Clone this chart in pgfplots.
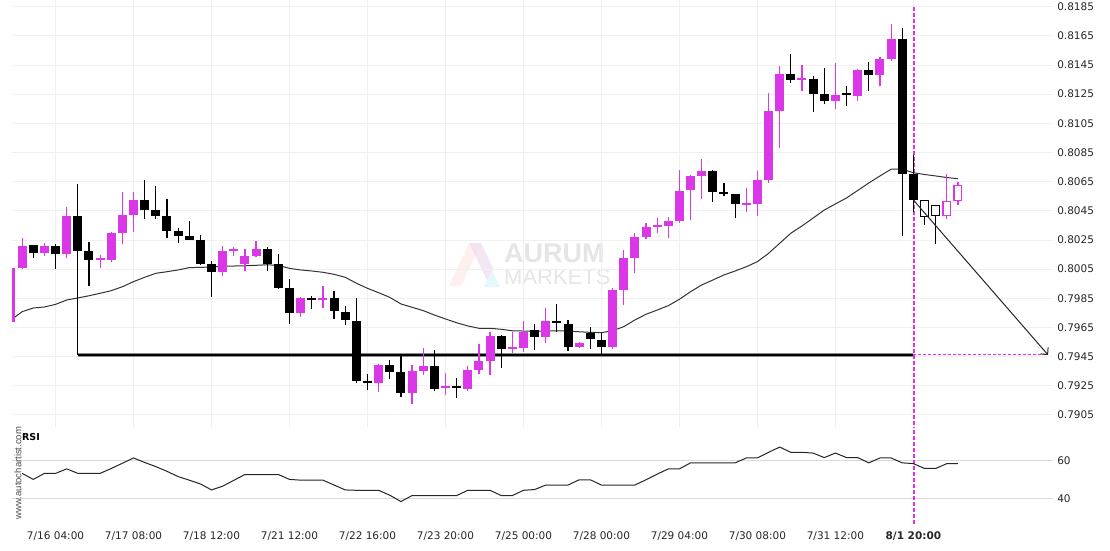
\documentclass[border=0pt]{standalone}
\usepackage{fontspec}
\setmainfont{DejaVu Sans}
\newfontfamily\arialf{Liberation Sans}
\usepackage{pgfplots}
\usepackage{pgfplotstable}
\pgfplotsset{compat=1.18}
\usetikzlibrary{arrows.meta}
\definecolor{mag}{HTML}{DA37E6}
\definecolor{dsh}{HTML}{E52EE5}

\pgfplotstableread{
i O H L C
0 0.79689 0.80060 0.79689 0.80060
1 0.80060 0.80261 0.80049 0.80208
3 0.80162 0.80227 0.80142 0.80208
5 0.80156 0.80474 0.80124 0.80416
8 0.80112 0.80149 0.80055 0.80126
9 0.80112 0.80305 0.80101 0.80298
10 0.80300 0.80577 0.80222 0.80421
11 0.80423 0.80577 0.80307 0.80524
19 0.80032 0.80210 0.80003 0.80174
20 0.80175 0.80200 0.80138 0.80189
21 0.80083 0.80186 0.80037 0.80140
22 0.80142 0.80243 0.80133 0.80188
26 0.79751 0.79856 0.79719 0.79852
28 0.79836 0.79932 0.79781 0.79852
33 0.79271 0.79399 0.79209 0.79392
36 0.79202 0.79392 0.79125 0.79349
37 0.79353 0.79509 0.79323 0.79385
39 0.79236 0.79335 0.79186 0.79250
41 0.79229 0.79385 0.79212 0.79358
42 0.79360 0.79536 0.79330 0.79420
43 0.79422 0.79618 0.79321 0.79591
45 0.79504 0.79620 0.79476 0.79518
46 0.79511 0.79694 0.79481 0.79620
48 0.79581 0.79781 0.79541 0.79694
51 0.79518 0.79552 0.79507 0.79543
54 0.79518 0.79918 0.79500 0.79907
55 0.79909 0.80181 0.79804 0.80126
56 0.80128 0.80300 0.80021 0.80270
57 0.80272 0.80368 0.80254 0.80339
58 0.80339 0.80398 0.80296 0.80353
59 0.80348 0.80409 0.80261 0.80380
60 0.80380 0.80730 0.80368 0.80586
61 0.80595 0.80695 0.80387 0.80689
62 0.80689 0.80803 0.80529 0.80723
66 0.80488 0.80604 0.80440 0.80502
67 0.80497 0.80723 0.80414 0.80661
68 0.80663 0.81256 0.80639 0.81135
69 0.81135 0.81445 0.80879 0.81388
71 0.81345 0.81448 0.81272 0.81359
74 0.81205 0.81462 0.81146 0.81244
76 0.81239 0.81425 0.81203 0.81416
78 0.81384 0.81507 0.81306 0.81491
79 0.81491 0.81731 0.81480 0.81628
}\bull

\pgfplotstableread{
i O H L C
2 0.80215 0.80215 0.80124 0.80162
4 0.80208 0.80222 0.80053 0.80156
6 0.80416 0.80632 0.79461 0.80176
7 0.80174 0.80234 0.79932 0.80114
12 0.80524 0.80661 0.80392 0.80457
13 0.80455 0.80620 0.80392 0.80414
14 0.80414 0.80529 0.80265 0.80313
15 0.80311 0.80332 0.80227 0.80279
16 0.80277 0.80378 0.80252 0.80252
17 0.80250 0.80282 0.80078 0.80087
18 0.80083 0.80108 0.79861 0.80032
23 0.80188 0.80204 0.80037 0.80083
24 0.80083 0.80151 0.79911 0.79920
25 0.79918 0.79980 0.79671 0.79751
27 0.79852 0.79867 0.79774 0.79836
29 0.79852 0.79898 0.79710 0.79760
30 0.79756 0.79797 0.79664 0.79701
31 0.79694 0.79850 0.79271 0.79284
32 0.79285 0.79328 0.79221 0.79271
34 0.79392 0.79424 0.79294 0.79346
35 0.79342 0.79467 0.79175 0.79202
38 0.79385 0.79493 0.79212 0.79229
40 0.79245 0.79301 0.79168 0.79231
44 0.79591 0.79600 0.79369 0.79504
47 0.79634 0.79671 0.79495 0.79582
49 0.79692 0.79808 0.79620 0.79678
50 0.79673 0.79701 0.79488 0.79518
52 0.79614 0.79651 0.79500 0.79568
53 0.79564 0.79610 0.79461 0.79518
63 0.80723 0.80730 0.80512 0.80581
64 0.80580 0.80639 0.80551 0.80566
65 0.80565 0.80565 0.80398 0.80494
70 0.81388 0.81526 0.81329 0.81347
72 0.81354 0.81375 0.81130 0.81253
73 0.81251 0.81427 0.81183 0.81205
75 0.81256 0.81306 0.81171 0.81242
77 0.81416 0.81471 0.81274 0.81384
80 0.81628 0.81707 0.80274 0.80699
81 0.80699 0.80833 0.80444 0.80524
}\bear

\pgfplotstableread{
i O H L C
82 0.80522 0.80522 0.80350 0.80412
83 0.80488 0.80488 0.80220 0.80419
}\bearH

\pgfplotstableread{
i O H L C
84 0.80416 0.80702 0.80396 0.80515
85 0.80519 0.80647 0.80488 0.80625
}\bullH

\pgfplotstableread{
i v
0 0.79701
1 0.79758
2 0.79783
3 0.79790
4 0.79808
5 0.79838
6 0.79852
7 0.79867
8 0.79884
9 0.79902
10 0.79929
11 0.79964
12 0.79994
13 0.80021
14 0.80032
15 0.80044
16 0.80060
17 0.80062
18 0.80064
19 0.80069
20 0.80071
21 0.80073
22 0.80076
23 0.80080
24 0.80075
25 0.80055
26 0.80044
27 0.80037
28 0.80028
29 0.80014
30 0.79994
31 0.79953
32 0.79918
33 0.79888
34 0.79856
35 0.79811
36 0.79788
37 0.79765
38 0.79735
39 0.79708
40 0.79682
41 0.79660
42 0.79644
43 0.79644
44 0.79637
45 0.79627
46 0.79625
47 0.79625
48 0.79625
49 0.79627
50 0.79625
51 0.79620
52 0.79616
53 0.79614
54 0.79627
55 0.79655
56 0.79701
57 0.79740
58 0.79769
59 0.79799
60 0.79843
61 0.79895
62 0.79941
63 0.79975
64 0.80010
65 0.80037
66 0.80066
67 0.80101
68 0.80158
69 0.80227
70 0.80296
71 0.80346
72 0.80400
73 0.80455
74 0.80497
75 0.80538
76 0.80589
77 0.80641
78 0.80689
79 0.80735
80 0.80735
81 0.80711
82 0.80699
83 0.80689
84 0.80678
85 0.80670
}\ma

\pgfplotstableread{
i r
1 53.2
2 50.0
3 53.2
4 53.2
5 55.6
6 53.2
7 53.2
8 53.2
9 55.8
10 58.6
11 61.4
12 59.0
13 56.8
14 54.3
15 51.5
16 49.6
17 47.6
18 44.4
19 46.4
20 49.5
21 52.6
22 52.6
23 52.6
24 52.6
25 50.0
26 49.6
27 49.6
28 49.6
29 47.0
30 44.4
31 44.2
32 44.2
33 44.2
34 41.6
35 38.2
36 41.4
37 41.4
38 41.4
39 41.4
40 41.4
41 44.2
42 44.2
43 44.2
44 41.4
45 41.4
46 44.2
47 44.6
48 47.0
49 47.0
50 47.0
51 49.8
52 49.8
53 47.0
54 47.0
55 47.0
56 47.0
57 49.8
58 52.8
59 55.6
60 55.6
61 58.8
62 58.8
63 58.8
64 58.8
65 58.8
66 61.4
67 61.4
68 64.4
69 67.2
70 64.4
71 64.4
72 64.0
73 61.6
74 64.0
75 61.6
76 61.6
77 58.8
78 61.4
79 61.4
80 58.8
81 58.4
82 55.8
83 55.8
84 58.4
85 58.4
}\rsi

\pgfplotsset{
  chartbase/.style={
    scale only axis, width=1041pt, anchor=south west,
    xmin=0.09, xmax=93.54,
    axis line style={draw=none},
    major tick length=0pt,
    tick label style={font=\fontsize{10.5}{12}\selectfont, text=black!85},
    yticklabel pos=right,
    yticklabel style={anchor=west, inner sep=0pt, xshift=4pt},
    xtick={4,11,...,81},
  }
}

\begin{document}
\begin{tikzpicture}[x=1pt,y=1pt]
\useasboundingbox (0,0) rectangle (1110,550);

% watermark logo
\fill[pink!30, opacity=0.8] (449,264) -- (461,264) -- (481,307) -- (469,307) -- cycle;
\fill[violet!12, opacity=0.8] (469,307) -- (481,307) -- (493,282) -- (487,270) -- cycle;
\fill[cyan!12, opacity=0.8] (484,263) -- (500,263) -- (492,280) -- cycle;
\node[font=\arialf\bfseries\fontsize{27}{27}\selectfont, text=black!10, anchor=base west, inner sep=0pt] at (504,288) {AURUM};
\node[font=\arialf\fontsize{22}{22}\selectfont, text=black!10, anchor=base west, inner sep=0pt] at (504,266) {MARKETS};

% price panel
\begin{axis}[chartbase,
  at={(12pt,123pt)}, height=427pt,
  ymin=0.789667, ymax=0.818960,
  ytick={0.7905,0.7925,0.7945,0.7965,0.7985,0.8005,0.8025,0.8045,0.8065,0.8085,0.8105,0.8125,0.8145,0.8165,0.8185},
  yticklabels={0.7905,0.7925,0.7945,0.7965,0.7985,0.8005,0.8025,0.8045,0.8065,0.8085,0.8105,0.8125,0.8145,0.8165,0.8185},
  xticklabels={},
  xmajorgrids, ymajorgrids,
  grid style={black!6, line width=0.8pt},
]
% vertical marker (behind the candles)
\addplot[dsh, line width=1.7pt, dash pattern=on 4pt off 2pt] coordinates {(81.03,0.7890) (81.03,0.8186)};
% moving average
\addplot[black!80, line width=1pt] table[x=i, y=v] {\ma};
% level line
\addplot[black!45, line width=3.4pt] coordinates {(6,0.79461) (81,0.79461)};
\addplot[black, line width=2pt] coordinates {(6,0.79461) (81,0.79461)};
\addplot[dsh, line width=1pt, dash pattern=on 3pt off 2pt] coordinates {(81,0.79461) (93.1,0.79461)};
% wicks
\addplot[mag, line width=1.2pt, quiver={u=0, v=\thisrow{H}-\thisrow{L}}] table[x=i, y=L] {\bull};
\addplot[black, line width=1.2pt, quiver={u=0, v=\thisrow{H}-\thisrow{L}}] table[x=i, y=L] {\bear};
\addplot[black, line width=1.2pt, quiver={u=0, v=\thisrow{H}-\thisrow{L}}] table[x=i, y=L] {\bearH};
\addplot[mag, line width=1.2pt, quiver={u=0, v=\thisrow{H}-\thisrow{L}}] table[x=i, y=L] {\bullH};
% bodies
\addplot[mag, line width=9pt, quiver={u=0, v=\thisrow{C}-\thisrow{O}}] table[x=i, y=O] {\bull};
\addplot[black, line width=9pt, quiver={u=0, v=\thisrow{C}-\thisrow{O}}] table[x=i, y=O] {\bear};
% hollow bodies
\addplot[black, fill=white, line width=1.3pt, line join=miter] coordinates {(81.655,0.80522) (82.345,0.80522) (82.345,0.80412) (81.655,0.80412) (81.655,0.80522) (82.345,0.80522)};
\addplot[black, fill=white, line width=1.3pt, line join=miter] coordinates {(82.655,0.80488) (83.345,0.80488) (83.345,0.80419) (82.655,0.80419) (82.655,0.80488) (83.345,0.80488)};
\addplot[mag, fill=white, line width=1.3pt, line join=miter] coordinates {(83.655,0.80515) (84.345,0.80515) (84.345,0.80416) (83.655,0.80416) (83.655,0.80515) (84.345,0.80515)};
\addplot[mag, fill=white, line width=1.3pt, line join=miter] coordinates {(84.655,0.80625) (85.345,0.80625) (85.345,0.80519) (84.655,0.80519) (84.655,0.80625) (85.345,0.80625)};
% forecast arrow
\addplot[black!85, line width=1pt, -{Straight Barb[length=5pt,width=10pt]}] coordinates {(81,0.80524) (93.09,0.79461)};
\end{axis}

% RSI panel
\begin{axis}[chartbase,
  at={(12pt,25pt)}, height=98pt,
  ymin=25.74, ymax=77.87,
  ytick={40,60}, yticklabels={40,60},
  ymajorgrids,
  grid style={black!15, line width=0.8pt},
  xticklabels={7/16 04:00,7/17 08:00,7/18 12:00,7/21 12:00,7/22 16:00,7/23 20:00,7/25 00:00,7/28 00:00,7/29 04:00,7/30 08:00,7/31 12:00,\textbf{8/1 20:00}},
  xticklabel style={anchor=base, yshift=-14pt},
]
\addplot[dsh, line width=1.7pt, dash pattern=on 4pt off 2pt] coordinates {(81.03,20) (81.03,80)};
\addplot[black!85, line width=1pt] table[x=i, y=r] {\rsi};
\end{axis}

\node[font=\bfseries\fontsize{9.5}{10}\selectfont, inner sep=0pt] at (31,113) {RSI};
\node[font=\arialf\fontsize{9.5}{10}\selectfont, text=black!70, rotate=90, inner sep=0pt] at (18,77) {www.autochartist.com};
\end{tikzpicture}
\end{document}
